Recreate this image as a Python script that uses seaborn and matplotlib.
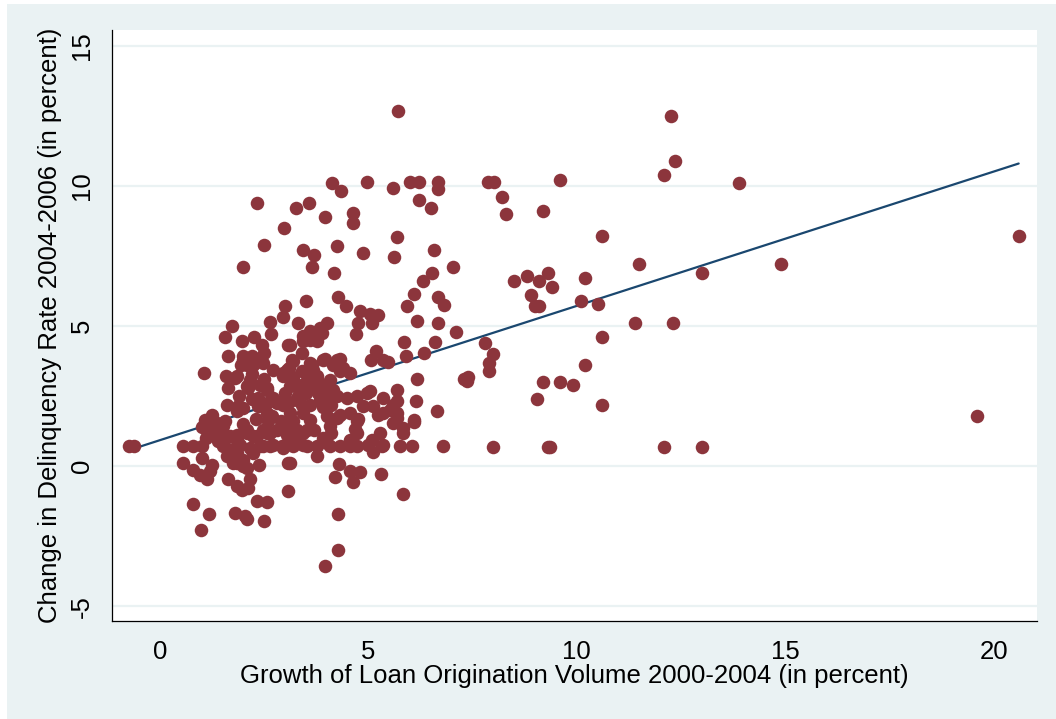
"""
plot.py - loan origination growth vs. change in delinquency rate (scatter + linear fit)
"""

import numpy as np
import pandas as pd
import matplotlib
matplotlib.use("Agg")
import matplotlib.pyplot as plt
from matplotlib.patches import Rectangle
import seaborn as sns

# --- data ----------------------------------------------------------------
# upper cloud (y above ~6.5)
upper_x = [5.70, 12.25, 12.35, 12.10, 13.90, 4.12, 4.96, 6.01, 6.22, 6.66,
           6.66, 5.60, 4.34, 7.88, 8.02, 9.60, 2.34, 3.26, 3.58, 6.22,
           6.50, 8.20, 8.30, 9.20, 2.97, 3.97, 4.62, 4.64, 5.68, 10.60,
           20.60, 2.50, 3.44, 3.69, 4.24, 4.86, 5.62, 6.57, 2.00, 3.64,
           4.18, 7.04, 6.52, 6.30, 11.50, 13.00, 14.90, 8.80, 8.50, 9.30,
           9.10, 9.40, 8.90, 9.00, 9.10, 10.20, 10.10, 10.50]
upper_y = [12.68, 12.50, 10.90, 10.40, 10.10, 10.10, 10.14, 10.14, 10.14, 10.14,
           9.90, 9.92, 9.81, 10.15, 10.15, 10.20, 9.40, 9.22, 9.40, 9.50,
           9.22, 9.60, 9.00, 9.10, 8.51, 8.90, 9.03, 8.69, 8.19, 8.20,
           8.20, 7.90, 7.72, 7.54, 7.86, 7.60, 7.48, 7.71, 7.11, 7.12,
           6.89, 7.12, 6.89, 6.62, 7.20, 6.90, 7.20, 6.80, 6.60, 6.90,
           6.60, 6.40, 6.10, 5.70, 5.70, 6.70, 5.90, 5.80]

# middle band (y roughly 3.5 to 6.5)
mid_x = [6.10, 5.92, 6.68, 6.82, 3.50, 4.27, 4.46, 4.80, 5.04, 5.24,
         4.76, 5.08, 4.70, 6.16, 6.68, 7.10, 3.30, 3.00, 2.96, 1.72,
         2.63, 2.66, 1.57, 1.96, 2.26, 2.44, 2.50, 3.07, 1.64, 2.00,
         2.20, 3.60, 3.88, 4.00, 3.44, 3.76, 3.12, 5.86, 6.60, 5.18,
         5.06, 5.46, 5.90, 6.33, 3.40, 3.20, 3.96, 4.32, 4.16, 3.64,
         3.44, 3.60, 3.68, 3.84, 2.00, 2.16, 2.32, 5.36, 7.80, 8.00,
         7.90, 7.90, 7.40, 7.30, 10.60, 11.40, 12.30, 10.20, 4.24, 4.40,
         4.56, 4.32, 3.92, 3.60, 3.68, 6.17, 7.36]
mid_y = [6.14, 5.72, 6.02, 5.74, 5.90, 6.02, 5.73, 5.52, 5.43, 5.40,
         5.11, 5.11, 4.73, 5.19, 5.11, 4.80, 5.12, 5.72, 5.31, 5.02,
         5.13, 4.72, 4.62, 4.48, 4.62, 4.34, 4.04, 4.31, 3.92, 3.92,
         3.92, 4.81, 4.75, 5.11, 4.48, 4.48, 4.34, 4.43, 4.43, 4.10,
         3.80, 3.72, 3.92, 4.04, 4.04, 3.74, 3.84, 3.84, 3.62, 3.62,
         4.63, 4.51, 4.75, 4.93, 3.80, 3.86, 3.74, 3.80, 4.40, 4.00,
         3.70, 3.40, 3.20, 3.10, 4.60, 5.10, 5.10, 3.60, 3.80, 3.50,
         3.33, 3.38, 3.80, 3.68, 3.45, 3.11, 3.05]

# dense core (x below ~4.5, y roughly 1 to 3.6)
core_x = [1.06, 1.58, 1.80, 1.94, 2.08, 2.24, 2.48, 2.72, 2.96, 3.16,
          1.64, 2.12, 2.56, 3.12, 2.36, 2.36, 2.72, 2.80, 2.96, 1.60,
          1.88, 2.00, 1.24, 1.08, 1.56, 2.56, 3.12, 1.84, 2.16, 2.08,
          2.56, 2.64, 2.92, 2.96, 3.04, 3.20, 3.28, 1.36, 1.84, 1.52,
          1.68, 1.84, 2.08, 2.24, 2.48, 2.64, 2.80, 3.04, 3.28, 3.44,
          1.20, 1.44, 1.60, 1.84, 2.08, 2.32, 2.56, 4.08, 4.16, 4.24,
          3.92, 3.84, 3.28, 3.44, 3.60, 3.52, 3.76, 3.10, 3.20, 3.30,
          3.40, 3.50, 3.50, 3.60, 3.70, 3.80, 3.90, 4.00, 3.30, 3.40,
          3.00, 3.10, 3.60, 3.80, 4.00, 4.10, 3.20, 3.70, 3.90, 4.10,
          3.30, 2.90, 2.60, 2.30, 2.00, 2.20, 2.50, 2.70, 3.00, 1.90,
          2.20, 2.50, 2.40, 1.00, 1.30, 1.10, 1.40]
core_y = [3.31, 3.21, 3.15, 3.62, 3.62, 3.62, 3.68, 3.45, 3.33, 3.80,
          2.79, 2.79, 2.79, 2.85, 2.44, 2.14, 2.44, 2.26, 2.20, 2.17,
          2.14, 2.08, 1.84, 1.66, 1.60, 1.90, 1.90, 3.21, 3.09, 2.85,
          2.73, 2.32, 2.32, 3.21, 3.45, 3.09, 2.85, 1.55, 1.96, 1.43,
          1.07, 1.13, 1.31, 1.07, 1.31, 1.19, 1.31, 1.13, 1.31, 1.19,
          1.43, 1.31, 1.07, 0.95, 1.19, 1.07, 1.19, 3.09, 2.73, 2.49,
          2.85, 2.38, 2.38, 1.90, 1.66, 1.31, 3.21, 3.50, 3.20, 2.90,
          3.40, 3.00, 2.60, 2.20, 2.90, 2.60, 2.10, 1.80, 2.50, 2.20,
          2.60, 2.30, 3.30, 3.00, 2.50, 2.20, 1.60, 1.30, 1.00, 1.20,
          1.00, 1.60, 1.60, 1.70, 1.50, 2.40, 2.10, 1.80, 1.40, 2.50,
          3.30, 3.10, 2.90, 1.40, 1.10, 1.00, 0.90]

# lower band (y below ~1), left part
low_x = [-0.74, -0.62, 0.56, 0.80, 1.00, 1.52, 1.84, 1.92, 2.16, 2.48,
         2.72, 2.96, 3.20, 3.52, 3.76, 4.08, 4.32, 4.56, 4.72, 3.44,
         4.00, 4.56, 5.00, 3.12, 2.40, 2.64, 2.92, 0.56, 1.02, 0.80,
         0.96, 1.12, 1.24, 1.20, 0.80, 1.18, 0.98, 1.64, 1.84, 1.96,
         2.12, 2.16, 2.32, 2.58, 1.80, 2.04, 2.08, 2.50, 2.38, 3.08,
         3.08, 1.64, 1.84, 2.00, 2.24, 1.76, 2.00, 1.60, 1.84, 2.08,
         3.76]
low_y = [0.71, 0.71, 0.71, 0.71, 0.71, 0.71, 0.71, 0.77, 0.65, 0.71,
         0.77, 0.65, 0.71, 0.71, 0.71, 0.71, 0.71, 0.71, 0.71, 0.77,
         0.83, 0.95, 0.77, 0.95, 0.71, 0.71, 0.71, 0.12, 0.30, -0.12,
         -0.30, -0.47, 0.06, -0.18, -1.36, -1.69, -2.26, -0.47, -0.71, -0.86,
         -0.77, -0.47, -1.25, -1.27, -1.66, -1.78, -1.87, -1.96, 0.06, 0.12,
         -0.87, 0.60, 0.48, 0.24, 0.48, 0.12, 0.00, 0.36, 0.12, -0.05,
         0.36]

# lower band, right of the core (x roughly 4 to 7) and sparse points beyond
right_x = [4.08, 4.72, 4.68, 5.60, 5.84, 6.10, 5.28, 5.08, 5.10, 5.36,
           5.76, 6.04, 6.80, 3.12, 4.29, 4.20, 4.56, 4.80, 4.64, 5.30,
           5.84, 4.26, 4.26, 3.97, 4.48, 4.72, 5.04, 5.36, 5.68, 5.68,
           5.12, 5.24, 5.52, 5.68, 4.76, 6.10, 4.32, 4.24, 6.14, 6.64,
           4.96, 5.60, 5.68, 4.56, 4.88, 5.36, 5.84, 5.32, 4.72, 4.56,
           10.60, 9.90, 9.60, 9.20, 9.05, 9.30, 9.35, 8.00, 12.10, 13.00,
           19.60]
right_y = [1.43, 1.60, 1.33, 1.55, 1.37, 1.57, 1.19, 0.95, 0.51, 0.74,
           0.71, 0.71, 0.71, 0.12, 0.09, -0.38, -0.18, -0.20, -0.57, -0.26,
           -0.98, -1.72, -2.97, -3.56, 2.44, 2.49, 2.67, 2.44, 2.73, 2.32,
           2.14, 1.84, 2.02, 1.72, 1.70, 1.66, 1.84, 1.73, 2.32, 1.96,
           2.61, 2.20, 1.90, 1.90, 2.14, 1.90, 1.19, 0.71, 1.19, 0.89,
           2.20, 2.90, 3.00, 3.00, 2.40, 0.70, 0.70, 0.70, 0.70, 0.70,
           1.80]

# fitted line
FIT_INTERCEPT = 0.93
FIT_SLOPE = 0.479

X_TICKS = [0, 5, 10, 15, 20]
Y_TICKS = [-5, 0, 5, 10, 15]
X_LABEL = "Growth of Loan Origination Volume 2000-2004 (in percent)"
Y_LABEL = "Change in Delinquency Rate 2004-2006 (in percent)"

BG = "#EAF2F3"
DOT = "#8C353C"
LINE = "#1A476F"


def main():
    df = pd.DataFrame({
        "growth": upper_x + mid_x + core_x + low_x + right_x,
        "delinq": upper_y + mid_y + core_y + low_y + right_y,
    })
    fit_x = np.array([df["growth"].min(), df["growth"].max()])
    fit = pd.DataFrame({"growth": fit_x, "delinq": FIT_INTERCEPT + FIT_SLOPE * fit_x})

    sns.set_theme(style="white")
    plt.rcParams["font.family"] = ["Liberation Sans", "DejaVu Sans"]
    plt.rcParams["axes.unicode_minus"] = False

    fig = plt.figure(figsize=(10.56, 7.19), dpi=100)
    fig.patch.set_facecolor("white")
    fig.patches.append(Rectangle((7 / 1056, 0), 1, 1 - 4 / 719, transform=fig.transFigure,
                                 facecolor=BG, edgecolor="none", zorder=-10))

    ax = fig.add_axes([112 / 1056, 1 - 621 / 719, 925 / 1056, 591 / 719])
    ax.set_facecolor("white")

    sns.scatterplot(data=df, x="growth", y="delinq", ax=ax, color=DOT,
                    s=95, linewidth=0, zorder=3)
    sns.lineplot(data=fit, x="growth", y="delinq", ax=ax, color=LINE,
                 linewidth=1.6, zorder=2)

    ax.set_xlim(-1.15, 21.04)
    ax.set_ylim(-5.52, 15.56)
    ax.set_xticks(X_TICKS)
    ax.set_yticks(Y_TICKS)

    ax.yaxis.grid(True, color=BG, linewidth=1.6)
    ax.xaxis.grid(False)
    ax.set_axisbelow(True)

    for side in ["top", "right"]:
        ax.spines[side].set_visible(False)
    for side in ["left", "bottom"]:
        ax.spines[side].set_color("black")
        ax.spines[side].set_linewidth(0.9)

    ax.tick_params(axis="both", direction="out", length=8, width=0.8,
                   color="black", labelsize=18.5, labelcolor="black")
    ax.tick_params(axis="x", pad=6)
    ax.tick_params(axis="y", pad=5)
    plt.setp(ax.get_yticklabels(), rotation=90, va="center")

    ax.set_xlabel(X_LABEL, fontsize=18.5, color="black", labelpad=0)
    ax.set_ylabel(Y_LABEL, fontsize=18.5, color="black", labelpad=6)

    fig.savefig("out.png", dpi=100, facecolor=fig.get_facecolor())


if __name__ == "__main__":
    main()
